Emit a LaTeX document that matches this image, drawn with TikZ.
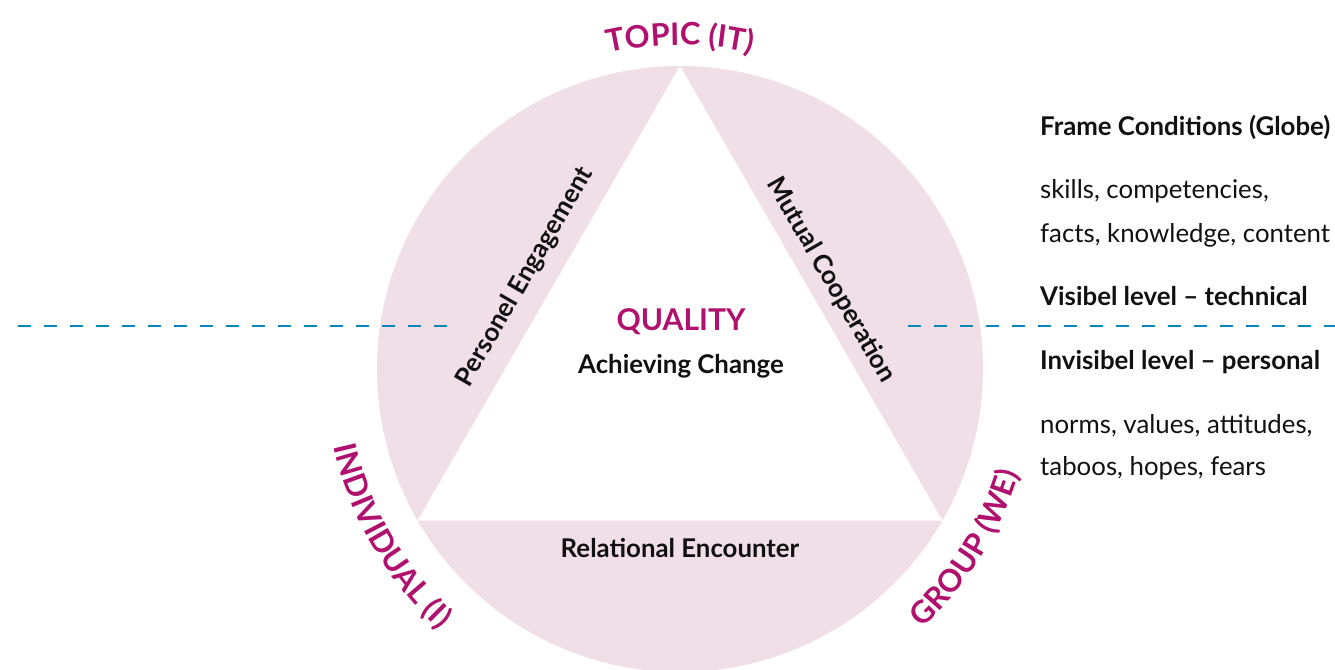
\documentclass[tikz,border=0pt]{standalone}
\usepackage{fontspec}
\setmainfont{Lato}
\usetikzlibrary{decorations.text}
\definecolor{pinkbg}{HTML}{F1DFE7}
\definecolor{mag}{HTML}{B0106E}
\definecolor{dashblue}{HTML}{0A86B9}
\definecolor{ink}{HTML}{111111}
\newcommand{\magfont}{\fontsize{31}{37}\selectfont\bfseries\color{mag}}
\begin{document}
\begin{tikzpicture}[x=1pt,y=1pt,
  body/.style={font=\fontsize{25.8}{31}\selectfont, text=ink, inner sep=0pt},
  bbody/.style={font=\fontsize{25.8}{31}\selectfont\bfseries, text=ink, inner sep=0pt},
  qual/.style={font=\fontsize{30}{36}\selectfont\bfseries, text=mag, inner sep=0pt},
  dashline/.style={draw=dashblue, line width=2.2pt, dash pattern=on 13pt off 13pt},
  arclabel/.style={decorate, decoration={text along path, text align=center, text={|\magfont|#1}}}
]
\useasboundingbox (0,0) rectangle (1335,-669);
\clip (0,0) rectangle (1335,-669);
\coordinate (C) at (680,-369);
\path (C) ++(90:303) coordinate (T);
\path (C) ++(210:303) coordinate (L);
\path (C) ++(-30:303) coordinate (R);
% globe and triangle
\fill[pinkbg] (C) circle[radius=303];
\fill[white] (T) -- (L) -- (R) -- cycle;
% dashed level line
\coordinate (dl1) at (18,-326);
\coordinate (dl2) at (451,-326);
\coordinate (dr1) at (908,-326);
\coordinate (dr2) at (1340,-326);
\draw[dashline] (dl1) -- (dl2);
\draw[dashline] (dr1) -- (dr2);
% curved corner labels
\path[arclabel={TOPIC (IT)}] (C) ++(120:324) arc[start angle=120, end angle=60, radius=324];
\path[arclabel={INDIVIDUAL (I)}] (C) ++(175:355) arc[start angle=175, end angle=245, radius=355];
\path[arclabel={GROUP (WE)}] (C) ++(-67:355) arc[start angle=-67, end angle=3, radius=355];
% side labels
\node[bbody, rotate=60] (pe) at (525,-277) {Personel Engagement};
\node[bbody, rotate=-60] (mc) at (831,-280) {Mutual Cooperation};
\node[bbody] (re) at (680,-548) {Relational Encounter};
% centre
\node[qual] (q) at (681,-322) {QUALITY};
\node[bbody] (ac) at (681,-366) {Achieving Change};
% right column
\node[bbody, anchor=base west] (fc) at (1040,-135) {Frame Conditions (Globe)};
\node[body, anchor=base west] (sk) at (1040,-198) {skills, competencies,};
\node[body, anchor=base west] (fa) at (1040,-242) {facts, knowledge, content};
\node[bbody, anchor=base west] (vi) at (1040,-305) {Visibel level -- technical};
\node[bbody, anchor=base west] (in) at (1040,-369) {Invisibel level -- personal};
\node[body, anchor=base west] (no) at (1040,-433) {norms, values, attitudes,};
\node[body, anchor=base west] (ta) at (1040,-475) {taboos, hopes, fears};
\end{tikzpicture}
\end{document}
